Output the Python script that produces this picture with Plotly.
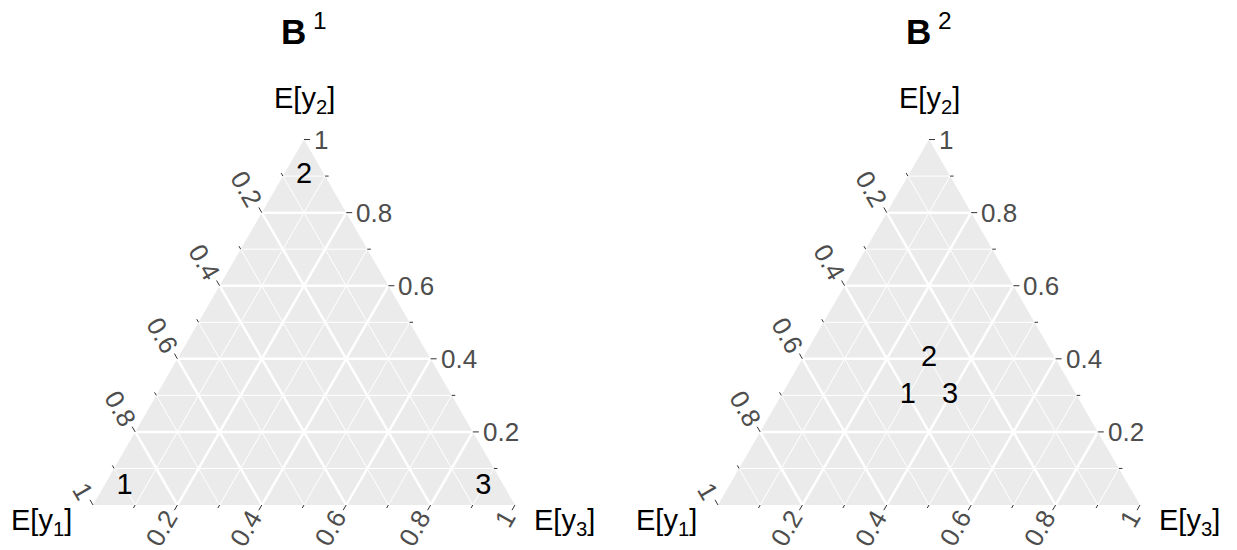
import numpy as np
import plotly.graph_objects as go

# ---------------- data ----------------
panel_titles = ["<b>B</b><sup> 1</sup>", "<b>B</b><sup> 2</sup>"]
axis_title_y1 = "E[y<sub>1</sub>]"
axis_title_y2 = "E[y<sub>2</sub>]"
axis_title_y3 = "E[y<sub>3</sub>]"
point_labels = ["1", "2", "3"]

b1_y1 = [0.90, 0.05, 0.05]
b1_y2 = [0.05, 0.90, 0.05]
b1_y3 = [0.05, 0.05, 0.90]

b2_y1 = [0.40, 0.30, 0.30]
b2_y2 = [0.30, 0.40, 0.30]
b2_y3 = [0.30, 0.30, 0.40]

major_breaks = [0.2, 0.4, 0.6, 0.8, 1.0]
minor_breaks = [0.1, 0.3, 0.5, 0.7, 0.9]
tick_labels = ["0.2", "0.4", "0.6", "0.8", "1"]

# ---------------- layout geometry ----------------
W, H = 1237, 550
S = 422.0                 # pixels per unit of triangle side
ORIGIN_X = [93.0, 718.0]  # pixel x of bottom-left vertex in each panel
ORIGIN_Y = 505.0          # pixel y of bottom edge
DOMAINS = [[0.0, 0.5], [0.5, 1.0]]
SQ3 = np.sqrt(3) / 2

FONT = "Liberation Sans, Arial, Helvetica, sans-serif"
TICK_FS = 26
TITLE_FS = 29
POINT_FS = 29
HEAD_FS = 35
TICK_COLOR = "#333333"
TICK_LABEL_COLOR = "#4d4d4d"
BG = "#ebebeb"


def tern(y1, y2, y3):
    y1 = np.asarray(y1, float); y2 = np.asarray(y2, float); y3 = np.asarray(y3, float)
    s = y1 + y2 + y3
    return (y3 + y2 / 2) / s, (y2 * SQ3) / s


fig = go.Figure()
annotations = []

panels = [(b1_y1, b1_y2, b1_y3), (b2_y1, b2_y2, b2_y3)]

for k, (p1, p2, p3) in enumerate(panels):
    xa = "x" if k == 0 else "x2"
    ya = "y" if k == 0 else "y2"

    # background triangle
    bx, by = tern([1, 0, 0, 1], [0, 1, 0, 0], [0, 0, 1, 0])
    fig.add_trace(go.Scatter(x=bx, y=by, mode="lines", fill="toself",
                             fillcolor=BG, line=dict(width=0, color=BG),
                             hoverinfo="skip", xaxis=xa, yaxis=ya))

    # grid lines
    for breaks, lw in ((minor_breaks, 1.0), ([b for b in major_breaks if b < 1], 2.5)):
        gx, gy = [], []
        for v in breaks:
            segs = [((1 - v, v, 0), (0, v, 1 - v)),   # constant y2
                    ((v, 1 - v, 0), (v, 0, 1 - v)),   # constant y1
                    ((1 - v, 0, v), (0, 1 - v, v))]   # constant y3
            for a, b in segs:
                xs, ys = tern([a[0], b[0]], [a[1], b[1]], [a[2], b[2]])
                gx += list(xs) + [None]
                gy += list(ys) + [None]
        fig.add_trace(go.Scatter(x=gx, y=gy, mode="lines",
                                 line=dict(color="white", width=lw),
                                 hoverinfo="skip", xaxis=xa, yaxis=ya))

    # tick marks
    tx, ty = [], []
    all_breaks = sorted(major_breaks + minor_breaks)
    for v in all_breaks:
        L = (6.0 if any(abs(v - m) < 1e-9 for m in major_breaks) else 3.5) / S
        ex, ey = tern(0, v, 1 - v)           # right edge (y2)
        tx += [float(ex), float(ex) + L, None]; ty += [float(ey), float(ey), None]
        ex, ey = tern(v, 1 - v, 0)           # left edge (y1)
        tx += [float(ex), float(ex) - 0.5 * L, None]; ty += [float(ey), float(ey) + SQ3 * L, None]
        ex, ey = tern(1 - v, 0, v)           # bottom edge (y3)
        tx += [float(ex), float(ex) - 0.5 * L, None]; ty += [float(ey), float(ey) - SQ3 * L, None]
    fig.add_trace(go.Scatter(x=tx, y=ty, mode="lines",
                             line=dict(color=TICK_COLOR, width=1),
                             hoverinfo="skip", xaxis=xa, yaxis=ya))

    # tick labels
    for v, lab in zip(major_breaks, tick_labels):
        ndig = sum(c.isdigit() for c in lab)
        ndot = lab.count(".")
        half = 0.5 * TICK_FS * (0.556 * ndig + 0.278 * ndot)
        d = 9 + half
        tfont = dict(size=TICK_FS, color=TICK_LABEL_COLOR, family=FONT)
        ex, ey = tern(0, v, 1 - v)
        annotations.append(dict(x=float(ex), y=float(ey), xref=xa, yref=ya, text=lab,
                                showarrow=False, xanchor="left", yanchor="middle",
                                xshift=8, font=tfont))
        ex, ey = tern(v, 1 - v, 0)
        annotations.append(dict(x=float(ex), y=float(ey), xref=xa, yref=ya, text=lab,
                                showarrow=False, xanchor="center", yanchor="middle", textangle=60,
                                xshift=-0.5 * d - 2, yshift=SQ3 * d, font=tfont))
        ex, ey = tern(1 - v, 0, v)
        annotations.append(dict(x=float(ex), y=float(ey), xref=xa, yref=ya, text=lab,
                                showarrow=False, xanchor="center", yanchor="middle", textangle=-60,
                                xshift=-0.5 * d - 2, yshift=-SQ3 * d, font=tfont))

    # axis titles
    afont = dict(size=TITLE_FS, color="black", family=FONT)
    vx, vy = tern(0, 1, 0)
    annotations.append(dict(x=float(vx), y=float(vy), xref=xa, yref=ya, text=axis_title_y2,
                            showarrow=False, xanchor="center", yanchor="middle", yshift=40,
                            font=afont))
    vx, vy = tern(1, 0, 0)
    annotations.append(dict(x=float(vx), y=float(vy), xref=xa, yref=ya, text=axis_title_y1,
                            showarrow=False, xanchor="right", yanchor="middle", xshift=-19, yshift=-17,
                            font=afont))
    vx, vy = tern(0, 0, 1)
    annotations.append(dict(x=float(vx), y=float(vy), xref=xa, yref=ya, text=axis_title_y3,
                            showarrow=False, xanchor="left", yanchor="middle", xshift=17, yshift=-17,
                            font=afont))

    # panel title
    tx0, ty0 = tern(0, 1, 0)
    annotations.append(dict(x=float(tx0), y=float(ty0), xref=xa, yref=ya,
                            text=panel_titles[k], showarrow=False, xanchor="center",
                            yanchor="middle", yshift=111,
                            font=dict(size=HEAD_FS, color="black", family=FONT)))

    # points as text labels
    px_, py_ = tern(p1, p2, p3)
    fig.add_trace(go.Scatter(x=px_, y=py_, mode="text", text=point_labels,
                             textposition="middle center",
                             textfont=dict(size=POINT_FS, color="black", family=FONT),
                             hoverinfo="skip", xaxis=xa, yaxis=ya))

layout = dict(width=W, height=H, margin=dict(l=0, r=0, t=0, b=0),
              paper_bgcolor="white", plot_bgcolor="white", showlegend=False,
              annotations=annotations, dragmode=False)
for k in range(2):
    d0, d1 = DOMAINS[k]
    xr = [(d0 * W - ORIGIN_X[k]) / S, (d1 * W - ORIGIN_X[k]) / S]
    yr = [(ORIGIN_Y - H) / S, ORIGIN_Y / S]
    sx = "xaxis" if k == 0 else "xaxis2"
    sy = "yaxis" if k == 0 else "yaxis2"
    layout[sx] = dict(domain=[d0, d1], range=xr, visible=False, fixedrange=True,
                      anchor="y" if k == 0 else "y2")
    layout[sy] = dict(domain=[0, 1], range=yr, visible=False, fixedrange=True,
                      anchor="x" if k == 0 else "x2")
fig.update_layout(**layout)
fig.write_html("out.html", config={"displayModeBar": False},
               post_script="document.body.style.margin='0';document.body.style.overflow='hidden';")
